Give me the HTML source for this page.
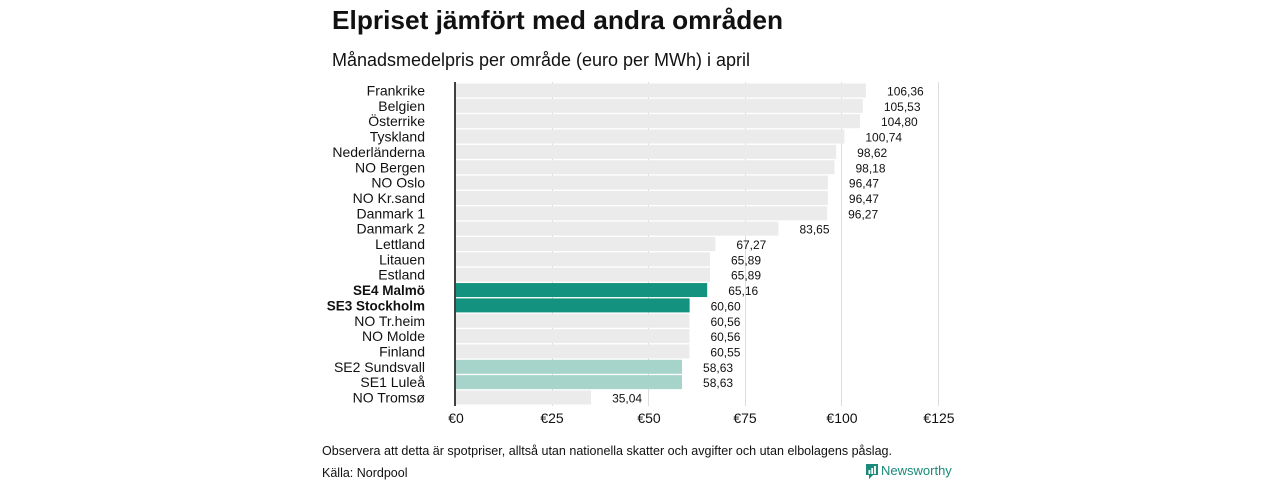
<!DOCTYPE html>
<html><head><meta charset="utf-8"><style>
html,body{margin:0;padding:0;background:#fff;}
svg{display:block;font-family:"Liberation Sans","DejaVu Sans",sans-serif;}
</style></head><body>
<svg width="1280" height="480" viewBox="0 0 1280 480" xmlns="http://www.w3.org/2000/svg">
<text x="332" y="29" font-size="26" font-weight="bold" fill="#111" textLength="451" lengthAdjust="spacingAndGlyphs">Elpriset jämfört med andra områden</text>
<text x="332" y="66" font-size="18" fill="#111" textLength="418" lengthAdjust="spacingAndGlyphs">Månadsmedelpris per område (euro per MWh) i april</text>
<g stroke="#dddddd" stroke-width="1">
<line x1="552.5" y1="82" x2="552.5" y2="406"/>
<line x1="648.5" y1="82" x2="648.5" y2="406"/>
<line x1="745.5" y1="82" x2="745.5" y2="406"/>
<line x1="841.5" y1="82" x2="841.5" y2="406"/>
<line x1="938.5" y1="82" x2="938.5" y2="406"/>
</g>
<g id="bars"></g>
<line x1="455" y1="82" x2="455" y2="406" stroke="#000" stroke-width="1.5"/>
<g font-size="14" fill="#111" text-anchor="middle">
<text x="456" y="423">€0</text><text x="552" y="423">€25</text><text x="649" y="423">€50</text><text x="745" y="423">€75</text><text x="842" y="423">€100</text><text x="939" y="423">€125</text>
</g>
<text x="322" y="455" font-size="12.5" fill="#111" textLength="570" lengthAdjust="spacingAndGlyphs">Observera att detta är spotpriser, alltså utan nationella skatter och avgifter och utan elbolagens påslag.</text>
<text x="322" y="477" font-size="12.5" fill="#111">Källa: Nordpool</text>
<rect x="866" y="464" width="12" height="11" fill="#1a8a7a"/>
<polygon points="869,475 873,475 869,479" fill="#1a8a7a"/>
<rect x="868.5" y="470" width="1.8" height="4" fill="#fff"/><rect x="871.3" y="468" width="1.8" height="6" fill="#fff"/><rect x="874.1" y="466" width="1.8" height="8" fill="#fff"/>
<text x="881" y="475" font-size="13" fill="#1a8a7a">Newsworthy</text>
<g id="rows"></g>
<script>
var d=[["Frankrike",106.36],["Belgien",105.53],["Österrike",104.80],["Tyskland",100.74],["Nederländerna",98.62],["NO Bergen",98.18],["NO Oslo",96.47],["NO Kr.sand",96.47],["Danmark 1",96.27],["Danmark 2",83.65],["Lettland",67.27],["Litauen",65.89],["Estland",65.89],["SE4 Malmö",65.16,"#12927f",1],["SE3 Stockholm",60.60,"#12927f",1],["NO Tr.heim",60.56],["NO Molde",60.56],["Finland",60.55],["SE2 Sundsvall",58.63,"#a6d3ca"],["SE1 Luleå",58.63,"#a6d3ca"],["NO Tromsø",35.04]];
var ns="http://www.w3.org/2000/svg",b=document.getElementById("bars"),r=document.getElementById("rows");
function el(t,a,p,txt){var e=document.createElementNS(ns,t);for(var k in a)e.setAttribute(k,a[k]);if(txt)e.textContent=txt;p.appendChild(e);return e;}
d.forEach(function(v,i){var cy=90.5+i*15.35,w=v[1]*3.855;
el("rect",{x:456,y:cy-7,width:w,height:14,fill:v[2]||"#ebebeb"},b);
el("text",{x:425,y:cy+5,"font-size":v[3]?13.5:14,"font-weight":v[3]?"bold":"normal","text-anchor":"end",fill:"#111"},r,v[0]);
el("text",{x:456+w+21,y:cy+5,"font-size":12,fill:"#111"},r,v[1].toFixed(2).replace(".",","));});
</script>
</svg>
</body></html>
